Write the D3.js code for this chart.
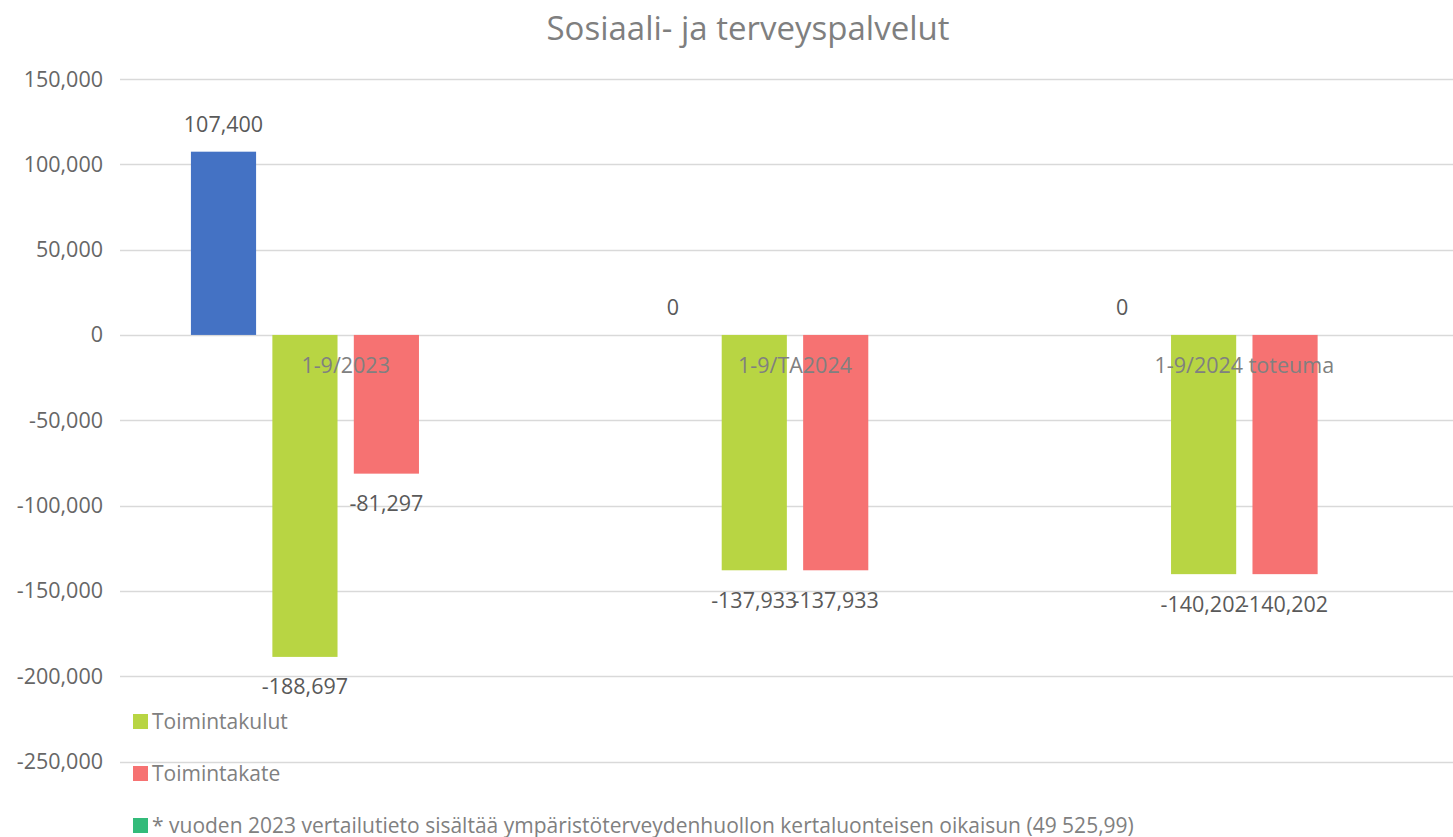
<!DOCTYPE html>
<html>
<head>
<meta charset="utf-8">
<script src="https://cdn.jsdelivr.net/npm/d3@7"></script>
<style>
  body { margin: 0; background: #fff; }
  svg { display: block; font-family: "Open Sans", sans-serif; }
</style>
</head>
<body>
<div id="chart"></div>
<script>
// data
const categories = ["1-9/2023", "1-9/TA2024", "1-9/2024 toteuma"];
const seriesNames = ["Toimintatuotot", "Toimintakulut", "Toimintakate", "* vuoden 2023 vertailutieto sisältää ympäristöterveydenhuollon kertaluonteisen oikaisun (49 525,99)"];
const tuotot = [107400, 0, 0];
const kulut = [-188697, -137933, -140202];
const kate = [-81297, -137933, -140202];
const huom = [null, null, null];
const yTicks = [150000, 100000, 50000, 0, -50000, -100000, -150000, -200000, -250000];
const colors = ["#4472c4", "#b8d543", "#f67272", "#33bb7a"];
const legendShown = [1, 2, 3];

const W = 1453, H = 837;
const seriesVals = [tuotot, kulut, kate, huom];

const svg = d3.select("#chart").append("svg")
    .attr("width", W)
    .attr("height", H);

const y = d3.scaleLinear().domain([-250000, 150000]).range([761.5, 79]);
const x0 = d3.scaleBand().domain(categories).range([121, 1469])
    .paddingInner(0.275).paddingOuter(0.1375);
const x1 = d3.scaleBand().domain(d3.range(seriesNames.length)).range([0, x0.bandwidth()])
    .paddingInner(0.2).paddingOuter(0.1);

// excel style: plain hyphen for minus
const fmt = v => d3.format(",")(v).replace("\u2212", "-");

// title
svg.append("text")
    .attr("x", 748).attr("y", 40)
    .attr("text-anchor", "middle")
    .style("font-size", "33px")
    .style("fill", "#7f7f7f")
    .text("Sosiaali- ja terveyspalvelut");

// gridlines
svg.append("g")
    .selectAll("line")
    .data(yTicks)
    .join("line")
    .attr("x1", 120).attr("x2", W)
    .attr("y1", d => Math.round(y(d)) + 0.5)
    .attr("y2", d => Math.round(y(d)) + 0.5)
    .style("stroke", "#d9d9d9")
    .style("stroke-width", 1.5);

// y axis labels
svg.append("g")
    .selectAll("text")
    .data(yTicks)
    .join("text")
    .attr("x", 103)
    .attr("y", d => y(d) + 7.5)
    .attr("text-anchor", "end")
    .style("font-size", "21.5px")
    .style("fill", "#666")
    .text(d => fmt(d));

// bars
const groups = svg.append("g")
    .selectAll("g")
    .data(categories)
    .join("g")
    .attr("transform", d => "translate(" + x0(d) + ",0)");

const cells = (c, ci) => seriesVals.map((s, si) => ({ si: si, v: s[ci] }));

groups.selectAll("rect")
    .data((c, ci) => cells(c, ci).filter(d => d.v !== null))
    .join("rect")
    .attr("x", d => x1(d.si))
    .attr("width", x1.bandwidth())
    .attr("y", d => y(Math.max(0, d.v)))
    .attr("height", d => Math.abs(y(d.v) - y(0)))
    .style("fill", d => colors[d.si]);

// category labels
svg.append("g")
    .selectAll("text")
    .data(categories)
    .join("text")
    .attr("x", d => x0(d) + x0.bandwidth() / 2)
    .attr("y", y(0) + 38.5)
    .attr("text-anchor", "middle")
    .style("font-size", "21.5px")
    .style("fill", "#808080")
    .text(d => d);

// data labels
groups.selectAll("text")
    .data((c, ci) => cells(c, ci).filter(d => d.v !== null))
    .join("text")
    .attr("x", d => x1(d.si) + x1.bandwidth() / 2)
    .attr("y", d => d.v >= 0 ? y(d.v) - 19.5 : y(d.v) + 37.5)
    .attr("text-anchor", "middle")
    .style("font-size", "21.5px")
    .style("fill", "#595959")
    .text(d => fmt(d.v));

// legend
const legend = svg.append("g")
    .selectAll("g")
    .data(legendShown)
    .join("g")
    .attr("transform", (d, i) => "translate(133," + (721 + i * 52) + ")");

legend.append("rect")
    .attr("x", 0).attr("y", -7)
    .attr("width", 15).attr("height", 15)
    .style("fill", d => colors[d]);

legend.append("text")
    .attr("x", 19).attr("y", 7.5)
    .style("font-size", "21px")
    .style("fill", "#808080")
    .text(d => seriesNames[d]);
</script>
</body>
</html>
